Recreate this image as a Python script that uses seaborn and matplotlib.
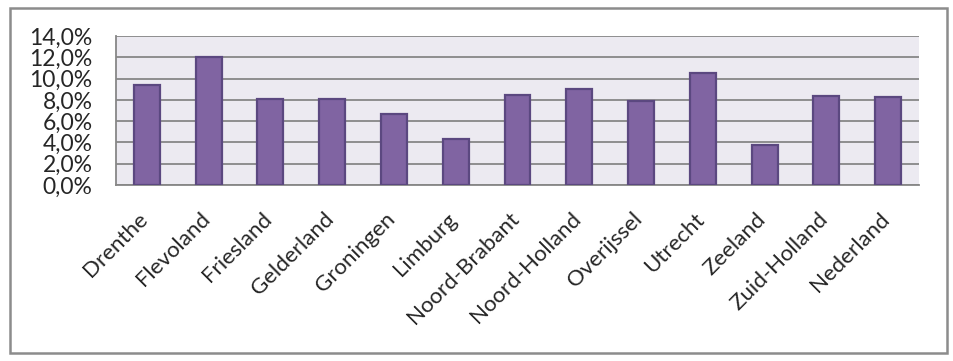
import matplotlib
matplotlib.use("Agg")
import matplotlib.pyplot as plt
import matplotlib.ticker as mticker
import matplotlib.transforms as mtransforms
from matplotlib.patches import Rectangle
import seaborn as sns
import numpy as np

# ============================================================
# DATA
# ============================================================

provinces = [
    "Drenthe", "Flevoland", "Friesland", "Gelderland", "Groningen",
    "Limburg", "Noord-Brabant", "Noord-Holland", "Overijssel",
    "Utrecht", "Zeeland", "Zuid-Holland", "Nederland",
]
shares = [9.4, 12.0, 8.1, 8.1, 6.7, 4.35, 8.45, 9.05, 7.85, 10.5, 3.8, 8.4, 8.3]
y_ticks = [0, 2, 4, 6, 8, 10, 12, 14]

# ============================================================
# STYLE
# ============================================================

sns.set_style("white")
plt.rcParams["font.family"] = ["Lato", "DejaVu Sans"]

grid_grey = "#878787"

fig = plt.figure(figsize=(9.54, 3.61), dpi=100)
ax = fig.add_axes([0.1216, 0.4875, 0.8417, 0.4127])

# ============================================================
# BARS
# ============================================================

sns.barplot(
    x=provinces,
    y=shares,
    color="#8064A2",
    saturation=1,
    width=0.42,
    edgecolor="#5B4880",
    linewidth=1.6,
    ax=ax,
    zorder=3,
)

ax.set_facecolor("#ECEAF1")
ax.set_xlim(-0.5, len(provinces) - 0.5)
ax.set_ylim(0, 14)

# y axis
ax.set_yticks(y_ticks)
ax.yaxis.set_major_formatter(
    mticker.FuncFormatter(lambda v, p: f"{v:.1f}%".replace(".", ","))
)
ax.yaxis.grid(True, color=grid_grey, linewidth=1.3, zorder=0)
ax.set_axisbelow(True)

# x axis: labels at centres, ticks at boundaries
ax.set_xticks(np.arange(len(provinces)))
ax.set_xticklabels(provinces, rotation=45, ha="right", rotation_mode="anchor")
ax.set_xticks(np.arange(-0.5, len(provinces)), minor=True)
ax.tick_params(axis="x", which="major", length=0, pad=15, labelsize=16)
ax.tick_params(axis="x", which="minor", length=6, width=1.3,
               color=grid_grey, direction="out")
ax.tick_params(axis="y", which="major", length=6, width=1.3,
               color=grid_grey, direction="out", pad=11, labelsize=16.5)
for lbl in ax.get_yticklabels():
    lbl.set_verticalalignment("center_baseline")

# nudge the rotated labels a little left / down like the original
shift = mtransforms.ScaledTranslation(-9 / 100, -3 / 100, fig.dpi_scale_trans)
for lbl in ax.get_xticklabels():
    lbl.set_transform(lbl.get_transform() + shift)

for side in ["top", "right"]:
    ax.spines[side].set_visible(False)
for side in ["left", "bottom"]:
    ax.spines[side].set_color(grid_grey)
    ax.spines[side].set_linewidth(1.3)

ax.set_xlabel("")
ax.set_ylabel("")

# outer chart frame
fig.patches.append(
    Rectangle((10 / 954, 8 / 361), 937 / 954, 345 / 361,
              transform=fig.transFigure, fill=False,
              edgecolor="#8C8C8C", linewidth=1.8)
)

fig.savefig("out.png", dpi=100)
